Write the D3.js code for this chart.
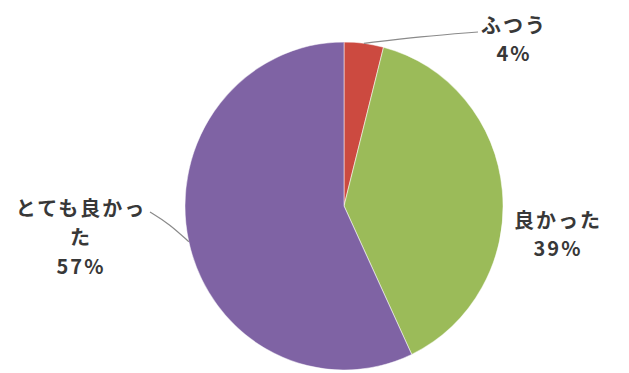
<!DOCTYPE html>
<html>
<head>
<meta charset="utf-8">
<script src="https://cdn.jsdelivr.net/npm/d3@7"></script>
<style>
  html, body { margin: 0; padding: 0; background: #fff; }
  svg { display: block; }
  text { font-family: "Noto Sans CJK JP", "Noto Sans", sans-serif; font-weight: bold; fill: #383838; }
</style>
</head>
<body>
<svg id="chart" width="629" height="373"></svg>
<script>
// Survey answers and their shares (%)
const categories = ["ふつう", "良かった", "とても良かった"];
const values = [4, 39, 57];
const colors = ["#CC4A40", "#9BBB59", "#7F63A4"];

const width = 629, height = 373;
const cx = 344, cy = 206, rx = 159, ry = 164;

const svg = d3.select("#chart");

const pie = d3.pie().sort(null).value(d => d.value);
const arcs = pie(categories.map((c, i) => ({ name: c, value: values[i], color: colors[i] })));
const arc = d3.arc().innerRadius(0).outerRadius(rx);

const g = svg.append("g")
  .attr("transform", `translate(${cx},${cy}) scale(1,${ry / rx})`);

g.selectAll("path")
  .data(arcs)
  .join("path")
  .attr("d", arc)
  .attr("fill", d => d.data.color)
  .attr("stroke", "#ffffff")
  .attr("stroke-opacity", 0.5)
  .attr("stroke-width", 1);

// point on the pie rim at a slice's middle angle
function rimPoint(d) {
  const a = (d.startAngle + d.endAngle) / 2;
  return [cx + rx * Math.sin(a), cy - ry * Math.cos(a)];
}

// label placement for each slice
const labelSpecs = [
  { lines: [categories[0], values[0] + "%"], x: 514, y: 28, gap: 28, anchor: [478, 32] },
  { lines: [categories[1], values[1] + "%"], x: 558, y: 223, gap: 28, anchor: null },
  { lines: ["とても良かっ", "た", values[2] + "%"], x: 81, y: 211, gap: 29, anchor: [150, 212] }
];

labelSpecs.forEach((spec, i) => {
  if (spec.anchor) {
    const p = rimPoint(arcs[i]);
    svg.append("path")
      .attr("d", d3.line().curve(d3.curveBasis)([spec.anchor,
        [spec.anchor[0] + (p[0] - spec.anchor[0]) * 0.5, spec.anchor[1] + (p[1] - spec.anchor[1]) * 0.4],
        p]))
      .attr("fill", "none")
      .attr("stroke", "#8a8a8a")
      .attr("stroke-width", 1.2);
  }
  const t = svg.append("text")
    .attr("text-anchor", "middle")
    .attr("font-size", 20)
    .attr("letter-spacing", 2);
  spec.lines.forEach((ln, k) => {
    t.append("tspan")
      .attr("x", spec.x)
      .attr("y", spec.y + k * spec.gap)
      .attr("dominant-baseline", "middle")
      .text(ln);
  });
});
</script>
</body>
</html>
